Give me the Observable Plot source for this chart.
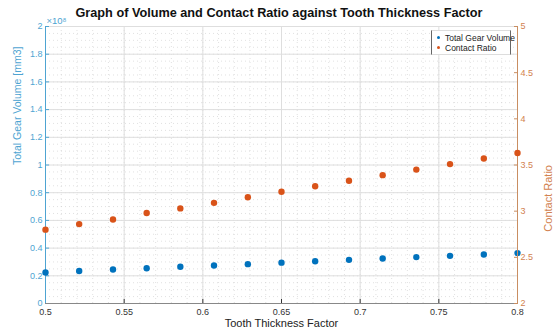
<!DOCTYPE html>
<html><head><meta charset="utf-8">
<script src="https://cdn.jsdelivr.net/npm/d3@7"></script>
<script src="https://cdn.jsdelivr.net/npm/@observablehq/plot@0.6"></script>
<style>
body{margin:0;background:#fff;font-family:"Liberation Sans",Arial,sans-serif;}
#wrap{position:relative;width:558px;height:333px;overflow:hidden;}
#wrap svg{position:absolute;left:0;top:0;}
#title{position:absolute;left:0;width:558px;top:6px;text-align:center;font-weight:bold;font-size:12.7px;color:#111;}
#legend{position:absolute;left:431px;top:30px;width:78px;height:23px;background:#fff;border:1px solid #ddd;border-left:1px solid #666;border-right:1px solid #666;font-size:8.5px;color:#222;}
#legend div{position:absolute;left:13px;white-space:nowrap;}
#legend span{position:absolute;left:-8px;top:3px;width:3px;height:3px;border-radius:50%;}
</style></head><body>
<div id="wrap"><div id="title"></div><div id="legend"></div></div>
<script>
const titleText = "Graph of Volume and Contact Ratio against Tooth Thickness Factor";
const xLabel = "Tooth Thickness Factor";
const yLeftLabel = "Total Gear Volume [mm3]";
const yRightLabel = "Contact Ratio";
const seriesNames = ["Total Gear Volume", "Contact Ratio"];
const factor = [0.5, 0.5214, 0.5429, 0.5643, 0.5857, 0.6071, 0.6286, 0.65, 0.6714, 0.6929, 0.7143, 0.7357, 0.7571, 0.7786, 0.8];
const volume = [0.224, 0.235, 0.245, 0.255, 0.265, 0.274, 0.284, 0.295, 0.305, 0.315, 0.325, 0.335, 0.344, 0.354, 0.364]; // x 1e8 mm3
const contactRatio = [2.80, 2.86, 2.91, 2.98, 3.03, 3.09, 3.15, 3.21, 3.27, 3.33, 3.39, 3.45, 3.51, 3.57, 3.63];
const xTicks = [0.5, 0.55, 0.6, 0.65, 0.7, 0.75, 0.8];
const xTickLabels = ["0.5", "0.55", "0.6", "0.65", "0.7", "0.75", "0.8"];
const yLeftTicks = [0, 0.2, 0.4, 0.6, 0.8, 1, 1.2, 1.4, 1.6, 1.8, 2];
const yLeftTickLabels = ["0", "0.2", "0.4", "0.6", "0.8", "1", "1.2", "1.4", "1.6", "1.8", "2"];
const yRightTicks = [2, 2.5, 3, 3.5, 4, 4.5, 5];
const yRightTickLabels = ["2", "2.5", "3", "3.5", "4", "4.5", "5"];
const exponentLabel = "×10⁸";

const BLUE = "#0072BD", ORANGE = "#D95319";
const LEFTC = "#4ea4d2", RIGHTC = "#c98e62", RIGHTTXT = "#d2824f";
const FONT = "Liberation Sans, Arial, sans-serif";
const W = 558, H = 333, mL = 45, mR = 41, mT = 26, mB = 30;
const xDomain = [0.5, 0.8];
const rows = factor.map((f, i) => ({f, v: volume[i], c: contactRatio[i]}));

const common = {width: W, height: H, marginLeft: mL, marginRight: mR, marginTop: mT, marginBottom: mB,
  style: {background: "transparent", fontFamily: FONT, fontSize: "9px", overflow: "visible"}};

const p1 = Plot.plot({
  ...common,
  x: {domain: xDomain},
  y: {domain: [0, 2]},
  marks: [
    Plot.gridX({ticks: 30, stroke: "#c8c8c8", strokeOpacity: 0.55, strokeDasharray: "1,3"}),
    Plot.gridY({ticks: 40, stroke: "#c8c8c8", strokeOpacity: 0.55, strokeDasharray: "1,3"}),
    Plot.gridX(xTicks, {stroke: "#dedede", strokeOpacity: 1}),
    Plot.gridY(yLeftTicks, {stroke: "#dedede", strokeOpacity: 1}),
    Plot.axisX(xTicks, {tickSize: -4, tickPadding: 9, tickFormat: (d, i) => xTickLabels[i], fill: "#333", stroke: "#333", label: null}),
    Plot.axisY(yLeftTicks, {tickSize: -4, tickPadding: 7, tickFormat: (d, i) => yLeftTickLabels[i], fill: LEFTC, stroke: LEFTC, label: null}),
    Plot.ruleY([0], {stroke: "#888"}),
    Plot.ruleX([xDomain[0]], {stroke: LEFTC}),
    Plot.text([yLeftLabel], {text: d => d, frameAnchor: "left", rotate: -90, dx: -28, fill: LEFTC, fontSize: 10.5}),
    Plot.text([xLabel], {text: d => d, frameAnchor: "bottom", dy: 23, fill: "#222", fontSize: 11}),
    Plot.text([exponentLabel], {text: d => d, frameAnchor: "top-left", textAnchor: "start", dy: -9, dx: 1, fill: LEFTC, fontSize: 9.5}),
    Plot.dot(rows, {x: "f", y: "v", r: 3.2, fill: BLUE, stroke: null})
  ]
});

const p2 = Plot.plot({
  ...common,
  x: {domain: xDomain, axis: null},
  y: {domain: [2, 5]},
  marks: [
    Plot.axisY(yRightTicks, {anchor: "right", tickSize: -4, tickPadding: 7, tickFormat: (d, i) => yRightTickLabels[i], fill: RIGHTTXT, stroke: RIGHTC, label: null}),
    Plot.ruleX([xDomain[1]], {stroke: RIGHTC}),
    Plot.text([yRightLabel], {text: d => d, frameAnchor: "right", rotate: -90, dx: 31, fill: RIGHTTXT, fontSize: 11}),
    Plot.dot(rows, {x: "f", y: "c", r: 3.2, fill: ORANGE, stroke: null})
  ]
});

const wrap = document.getElementById("wrap");
wrap.insertBefore(p2, wrap.firstChild);
wrap.insertBefore(p1, wrap.firstChild);
document.getElementById("title").textContent = titleText;
const leg = document.getElementById("legend");
[[seriesNames[0], BLUE, 2], [seriesNames[1], ORANGE, 12]].forEach(([t, c, top]) => {
  const d = document.createElement("div");
  d.style.top = top + "px";
  d.textContent = t;
  const s = document.createElement("span");
  s.style.background = c;
  d.appendChild(s);
  leg.appendChild(d);
});
</script></body></html>
